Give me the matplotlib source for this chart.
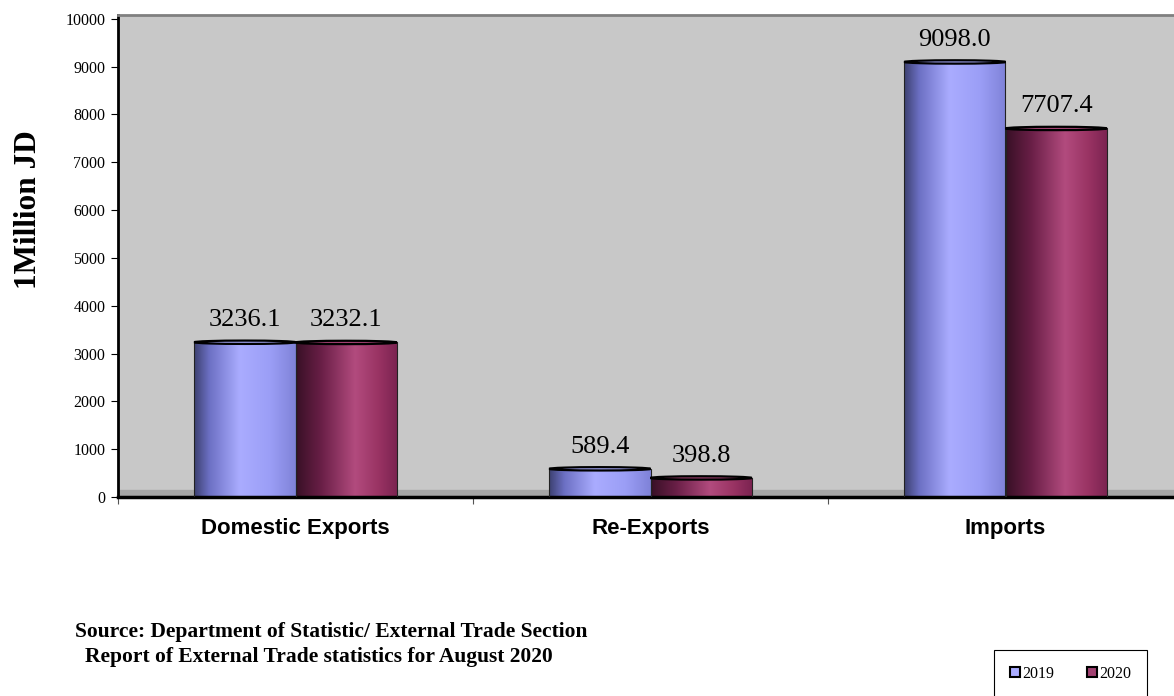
import matplotlib.pyplot as plt
import numpy as np
from matplotlib.colors import LinearSegmentedColormap
from matplotlib.patches import Ellipse, Patch

### data ###
categories = ['Domestic Exports', 'Re-Exports', 'Imports']
years = ['2019', '2020']
values_2019 = [3236.1, 589.4, 9098.0]
values_2020 = [3232.1, 398.8, 7707.4]
yticks = [0, 1000, 2000, 3000, 4000, 5000, 6000, 7000, 8000, 9000, 10000]

### cylinder shading for each series ###
blue = LinearSegmentedColormap.from_list('b', [(0, '#3c4070'), (0.15, '#6c70c4'), (0.45, '#aaacff'),
                                               (0.75, '#9b9ef6'), (1, '#7f82d8')])
maroon = LinearSegmentedColormap.from_list('m', [(0, '#381026'), (0.25, '#6a1f47'), (0.58, '#b24b7e'),
                                                 (0.82, '#983262'), (1, '#7a2350')])
shade = np.linspace(0, 1, 256).reshape(1, -1)

fig = plt.figure(figsize=(11.74, 6.96), dpi=100)
ax = fig.add_axes([118 / 1174, 1 - 497 / 696, 1065 / 1174, 482 / 696])
ax.set_facecolor('#c8c8c8')
ymax = 10080

x = np.arange(len(categories))
w = 0.285
ax.axhspan(0, 150, color='#a6a6a6', zorder=0.5)

for vals, cmap, off in [(values_2019, blue, -w / 2), (values_2020, maroon, w / 2)]:
    bars = ax.bar(x + off, vals, w, facecolor='none', edgecolor='#222222', linewidth=0.8, zorder=3)
    for b, v in zip(bars, vals):
        x0 = b.get_x()
        im = ax.imshow(shade, cmap=cmap, extent=(x0, x0 + w, 0, v), aspect='auto',
                       interpolation='bicubic', zorder=2)
        im.set_clip_path(b)
        ax.add_patch(Ellipse((x0 + w / 2, v), w, 70, facecolor=cmap(0.5), edgecolor='black',
                             linewidth=1.6, zorder=4))
        ax.annotate('%.1f' % v, (x0 + w / 2, v), xytext=(0, 8), textcoords='offset points',
                    ha='center', va='bottom', fontsize=19, family='Liberation Serif', zorder=5)

ax.set_xlim(-0.5, 2.5)
ax.set_ylim(0, ymax)
ax.set_yticks(yticks)
ax.set_yticklabels([str(t) for t in yticks], fontsize=11.5, family='Liberation Serif')
ax.set_xticks([-0.5, 0.5, 1.5, 2.5])
ax.set_xticklabels([])
ax.set_xticks(x, minor=True)
ax.set_xticklabels(categories, minor=True, fontsize=16, fontweight='bold', family='Liberation Sans')
ax.tick_params(axis='x', which='minor', length=0, pad=15)
ax.tick_params(axis='x', which='major', length=5, direction='out', color='#555555')
ax.tick_params(axis='y', length=5, direction='out', pad=4)
ax.spines['left'].set_linewidth(2)
ax.spines['bottom'].set_linewidth(2.5)
ax.spines['top'].set_color('#808080')
ax.spines['top'].set_linewidth(2)
ax.spines['right'].set_visible(False)

fig.text(29 / 1174, 1 - 210 / 696, '1Million JD', rotation=90, ha='center', va='center',
         fontsize=22.5, fontweight='bold', family='Liberation Serif')

fig.text(75 / 1174, 1 - 632 / 696, 'Source: Department of Statistic/ External Trade Section',
         fontsize=15.5, fontweight='bold', family='Liberation Serif', va='center')
fig.text(85 / 1174, 1 - 657 / 696, 'Report of External Trade statistics for August 2020',
         fontsize=15.5, fontweight='bold', family='Liberation Serif', va='center')

handles = [Patch(facecolor=blue(0.45), edgecolor='black', linewidth=1.5),
           Patch(facecolor=maroon(0.5), edgecolor='black', linewidth=1.5)]
leg = fig.legend(handles, years, loc='upper left', bbox_to_anchor=(994 / 1174, 1 - 650 / 696),
                 borderaxespad=0, ncol=2, fancybox=False, edgecolor='black', framealpha=1,
                 borderpad=1.0, handlelength=0.6, handleheight=0.6, handletextpad=0.15,
                 columnspacing=2.1, prop={'family': 'Liberation Serif', 'size': 11.5})
leg.get_frame().set_linewidth(0.8)

plt.savefig('out.png', dpi=100)
